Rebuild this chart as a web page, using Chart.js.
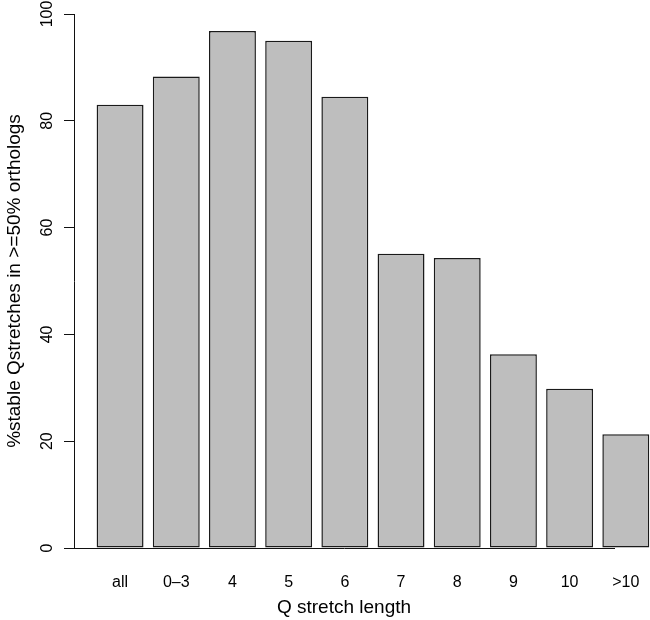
<!DOCTYPE html>
<html>
<head>
<meta charset="utf-8">
<script src="https://cdn.jsdelivr.net/npm/chart.js@4/dist/chart.umd.min.js"></script>
<style>
  html, body { margin: 0; padding: 0; background: #fff; overflow: hidden; }
  canvas { display: block; }
</style>
</head>
<body>
<canvas id="qChart" width="650" height="620"></canvas>
<script>
// Q stretch length categories and % stable values
const categories = ['all', '0\u20133', '4', '5', '6', '7', '8', '9', '10', '>10']
const stablePct = [83.0, 88.3, 96.8, 95.0, 84.5, 55.1, 54.3, 36.3, 29.8, 21.3]
const yTicks = [0, 20, 40, 60, 80, 100]

const fontFamily = '"Liberation Sans", Arial, Helvetica, sans-serif'

const ctx = document.getElementById('qChart')
const myChart = new Chart(ctx, {
    type: 'bar',
    data: {
        datasets: [{
            data: stablePct.map((v, i) => ({x: i + 1, y: v})),
            backgroundColor: 'rgb(190, 190, 190)',
            borderColor: '#1a1a1a',
            borderWidth: 1.5,
            borderSkipped: false,
            categoryPercentage: 1,
            barPercentage: 0.835,
            clip: false
        }]
    },
    options: {
        responsive: false,
        animation: false,
        layout: {
            padding: {top: 14, right: 36, left: 0, bottom: 0}
        },
        plugins: {
            legend: {display: false},
            tooltip: {enabled: false}
        },
        scales: {
            x: {
                type: 'linear',
                offset: false,
                min: 0.18,
                max: 9.79,
                afterBuildTicks: (axis) => {
                    axis.ticks = categories.map((c, i) => ({value: i + 1}))
                },
                afterFit: (scale) => {
                    scale.height = 72
                    scale.paddingLeft = 0
                    scale.paddingRight = 0
                },
                grid: {display: false, drawTicks: false},
                border: {display: true, color: '#111', width: 1},
                ticks: {
                    autoSkip: false,
                    maxRotation: 0,
                    padding: 25,
                    color: '#000',
                    font: {family: fontFamily, size: 16},
                    callback: (v) => categories[v - 1]
                },
                title: {
                    display: true,
                    text: 'Q stretch length',
                    color: '#000',
                    font: {family: fontFamily, size: 19},
                    padding: {top: 0, bottom: 1}
                }
            },
            y: {
                min: 0,
                max: 100,
                afterBuildTicks: (axis) => {
                    axis.ticks = yTicks.map(v => ({value: v}))
                },
                afterFit: (scale) => {
                    scale.width = 74
                    scale.paddingTop = 0
                    scale.paddingBottom = 0
                },
                grid: {
                    display: true,
                    drawOnChartArea: false,
                    drawTicks: true,
                    tickLength: 10,
                    color: '#111'
                },
                border: {display: true, color: '#111', width: 1},
                ticks: {
                    minRotation: 90,
                    maxRotation: 90,
                    crossAlign: 'center',
                    padding: 3,
                    color: '#000',
                    font: {family: fontFamily, size: 16}
                },
                title: {
                    display: true,
                    text: '%stable Qstretches in >=50% orthologs',
                    color: '#000',
                    font: {family: fontFamily, size: 19},
                    padding: {top: 3, bottom: 0}
                }
            }
        }
    }
})
</script>
</body>
</html>
